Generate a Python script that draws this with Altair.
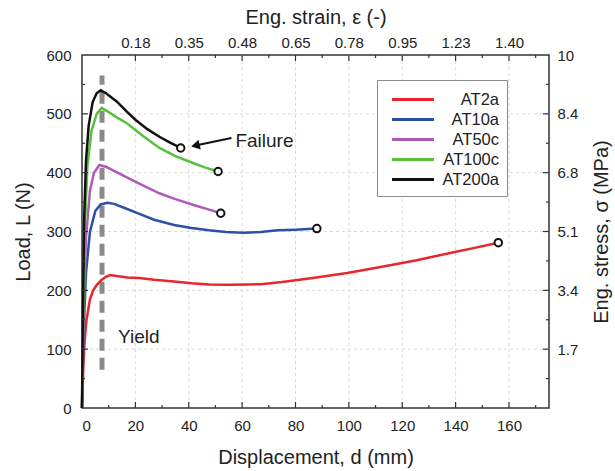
import altair as alt
import pandas as pd

# Load–displacement curves for five specimens
SERIES = ["AT2a", "AT10a", "AT50c", "AT100c", "AT200a"]
COLORS = ["#e8262b", "#2d4fa6", "#b05ab8", "#5bbf3e", "#111111"]

at2a_d = [0, 0.5, 1, 1.7, 3, 4.2, 5.5, 7.4, 9, 10.5, 13, 17, 21.5, 27, 34.5, 41, 47.5, 55, 62, 67, 75, 86.5, 99.4, 112.4, 125.4, 138.4, 148, 156]
at2a_L = [0, 70, 115, 150, 185, 200, 209, 218, 223, 226, 224.5, 222, 221, 218, 215, 212, 210, 209.5, 210, 210.5, 214, 221, 229.5, 240, 251, 264, 273, 281]

at10a_d = [0, 0.5, 1.5, 3, 5, 7, 9.5, 12, 16, 21.5, 27, 34.5, 41, 47.5, 54, 60.5, 67, 73.4, 80, 88]
at10a_L = [0, 120, 230, 300, 335, 346, 349, 347, 340, 330, 320, 311, 306, 302, 299, 298, 299, 302, 303, 305]

at50c_d = [0, 0.5, 1.5, 3, 4.5, 6.5, 9, 12, 16.8, 23, 29, 35, 41.8, 47, 52]
at50c_L = [0, 150, 290, 370, 400, 413, 410, 403, 392, 378, 365, 355, 345, 338, 331]

at100c_d = [0, 0.4, 1, 2, 3.5, 5.5, 7.4, 10, 13, 16.8, 23, 29, 35, 41.8, 46, 51]
at100c_L = [0, 150, 300, 410, 470, 500, 510, 503, 494, 484, 462, 442, 428, 416, 409, 402]

at200a_d = [0, 0.3, 0.8, 1.5, 2.5, 4, 5.5, 7, 9, 13, 16.5, 20, 24.5, 29, 33, 37]
at200a_L = [0, 150, 320, 420, 480, 520, 535, 540, 535, 521, 505, 490, 474, 461, 451, 442]

# Axis ticks and the secondary-axis labels
x_major = [20, 40, 60, 80, 100, 120, 140, 160]
x_minor = [10, 30, 50, 70, 90, 110, 130, 150, 170]
y_major = [100, 200, 300, 400, 500]
y_minor = [50, 150, 250, 350, 450, 550]
strain_labels = ["0.18", "0.35", "0.48", "0.65", "0.78", "0.95", "1.23", "1.40"]
stress_labels = ["1.7", "3.4", "5.1", "6.8", "8.4", "10"]

# Annotations
yield_d = 7.5
yield_L = [65, 565]
yield_text = {"d": 13.5, "L": 120, "text": "Yield"}
failure_text = {"d": 57.5, "L": 454, "text": "Failure"}
arrow_d = [56, 42.5]
arrow_L = [459, 446]

W, H = 467, 353
FONT = "Liberation Sans"
TXT = "#222222"

curves = pd.concat(
    [
        pd.DataFrame({"d": d, "L": L, "series": s, "i": range(len(d))})
        for s, d, L in [
            ("AT2a", at2a_d, at2a_L),
            ("AT10a", at10a_d, at10a_L),
            ("AT50c", at50c_d, at50c_L),
            ("AT100c", at100c_d, at100c_L),
            ("AT200a", at200a_d, at200a_L),
        ]
    ],
    ignore_index=True,
)
ends = curves.groupby("series", as_index=False).last()

xs = alt.Scale(domain=[0, 175], nice=False, zero=False)
ys = alt.Scale(domain=[0, 600], nice=False, zero=False)

grid_x = alt.Chart(pd.DataFrame({"d": x_major})).mark_rule(
    color="#d9d9d9", strokeWidth=1, strokeDash=[3, 3]
).encode(x=alt.X("d:Q", scale=xs, axis=None))
grid_y = alt.Chart(pd.DataFrame({"L": y_major})).mark_rule(
    color="#d9d9d9", strokeWidth=1, strokeDash=[3, 3]
).encode(y=alt.Y("L:Q", scale=ys, axis=None))

yield_line = alt.Chart(pd.DataFrame({"d": [yield_d], "L0": [yield_L[0]], "L1": [yield_L[1]]})).mark_rule(
    color="#8a8a8a", strokeWidth=5, strokeDash=[12, 7]
).encode(
    x=alt.X("d:Q", scale=xs, axis=None),
    y=alt.Y("L0:Q", scale=ys, axis=None),
    y2="L1:Q",
)

lines = alt.Chart(curves).mark_line(strokeWidth=2.5).encode(
    x=alt.X(
        "d:Q",
        scale=xs,
        axis=alt.Axis(
            orient="bottom",
            values=[0] + x_major,
            ticks=False,
            domain=False,
            grid=False,
            labelPadding=10,
            labelFontSize=15,
            labelFont=FONT,
            labelColor=TXT,
            title="Displacement, d (mm)",
            titleFontSize=20,
            titleFont=FONT,
            titleFontWeight="normal",
            titleColor=TXT,
            titlePadding=14,
        ),
    ),
    y=alt.Y(
        "L:Q",
        scale=ys,
        axis=alt.Axis(
            orient="left",
            values=[0] + y_major + [600],
            ticks=False,
            domain=False,
            grid=False,
            labelPadding=11,
            labelFontSize=15,
            labelFont=FONT,
            labelColor=TXT,
            title="Load, L (N)",
            titleFontSize=20,
            titleFont=FONT,
            titleFontWeight="normal",
            titleColor=TXT,
            titlePadding=12,
        ),
    ),
    color=alt.Color(
        "series:N",
        scale=alt.Scale(domain=SERIES, range=COLORS),
        legend=alt.Legend(
            orient="none",
            legendX=295,
            legendY=25,
            title=None,
            symbolType="M-0.45,0H3.75",
            symbolSize=400,
            symbolStrokeWidth=3,
            labelFontSize=16.5,
            labelFont=FONT,
            labelColor=TXT,
            labelAlign="right",
            labelOffset=91,
            strokeColor="#8a8a8a",
            fillColor="white",
            padding=8,
            rowPadding=0,
        ),
    ),
    detail="series:N",
    order="i:Q",
)

markers = alt.Chart(ends).mark_point(
    shape="circle", size=55, fill="white", stroke="#111111", strokeWidth=2, opacity=1
).encode(
    x=alt.X("d:Q", scale=xs, axis=None),
    y=alt.Y("L:Q", scale=ys, axis=None),
)

# Inward tick marks on all four sides
def vticks(vals, y0, y1, axis=None):
    return alt.Chart(pd.DataFrame({"d": vals})).mark_rule(color="#333333", strokeWidth=1.2).encode(
        x=alt.X("d:Q", scale=xs, axis=axis), y=alt.value(y0), y2=alt.value(y1)
    )

def hticks(vals, x0, x1, axis=None):
    return alt.Chart(pd.DataFrame({"L": vals})).mark_rule(color="#333333", strokeWidth=1.2).encode(
        y=alt.Y("L:Q", scale=ys, axis=axis), x=alt.value(x0), x2=alt.value(x1)
    )

strain_expr = "[" + ",".join(f"'{s}'" for s in strain_labels) + "][round(datum.value/20)-1]"
stress_expr = "[" + ",".join(f"'{s}'" for s in stress_labels) + "][round(datum.value/100)-1]"

top_axis = alt.Axis(
    orient="top",
    values=x_major,
    labelExpr=strain_expr,
    ticks=False,
    domain=False,
    grid=False,
    labelPadding=5,
    labelFontSize=15,
    labelFont=FONT,
    labelColor=TXT,
    title="Eng. strain, ε (-)",
    titleFontSize=20,
    titleFont=FONT,
    titleFontWeight="normal",
    titleColor=TXT,
    titlePadding=8,
)
right_axis = alt.Axis(
    orient="right",
    values=y_major + [600],
    labelExpr=stress_expr,
    ticks=False,
    domain=False,
    grid=False,
    labelPadding=8,
    labelFontSize=15,
    labelFont=FONT,
    labelColor=TXT,
    title="Eng. stress, σ (MPa)",
    titleAngle=270,
    titleFontSize=20,
    titleFont=FONT,
    titleFontWeight="normal",
    titleColor=TXT,
    titlePadding=34,
)

ticks = [
    vticks(x_major, H, H - 6),
    vticks(x_minor, H, H - 3),
    vticks(x_major, 0, 6, axis=top_axis),
    vticks(x_minor, 0, 3),
    hticks(y_major, 0, 6),
    hticks(y_minor, 0, 3),
    hticks(y_major, W, W - 6, axis=right_axis),
    hticks(y_minor, W, W - 3),
]

arrow_df = pd.DataFrame({"d": arrow_d, "L": arrow_L, "i": [0, 1]})
arrow_shaft = alt.Chart(arrow_df).mark_line(color="#111111", strokeWidth=2).encode(
    x=alt.X("d:Q", scale=xs, axis=None), y=alt.Y("L:Q", scale=ys, axis=None), order="i:Q"
)
arrow_head = alt.Chart(arrow_df.iloc[[1]]).mark_point(
    shape="triangle-left", size=100, filled=True, color="#111111", opacity=1, angle=347
).encode(x=alt.X("d:Q", scale=xs, axis=None), y=alt.Y("L:Q", scale=ys, axis=None))

labels = alt.Chart(pd.DataFrame([yield_text, failure_text])).mark_text(
    align="left", baseline="middle", fontSize=19, font=FONT, color=TXT
).encode(
    x=alt.X("d:Q", scale=xs, axis=None),
    y=alt.Y("L:Q", scale=ys, axis=None),
    text="text:N",
)

chart = (
    alt.layer(grid_x, grid_y, yield_line, lines, markers, *ticks, arrow_shaft, arrow_head, labels)
    .resolve_axis(x="independent", y="independent")
    .properties(
        width=W,
        height=H,
        autosize=alt.AutoSizeParams(type="none"),
        padding={"left": 82, "top": 55, "right": 66, "bottom": 63},
        background="white",
    )
    .configure_view(stroke="#333333", strokeWidth=1.5)
)

chart.save("out.html", embed_options={"renderer": "svg", "actions": False})
